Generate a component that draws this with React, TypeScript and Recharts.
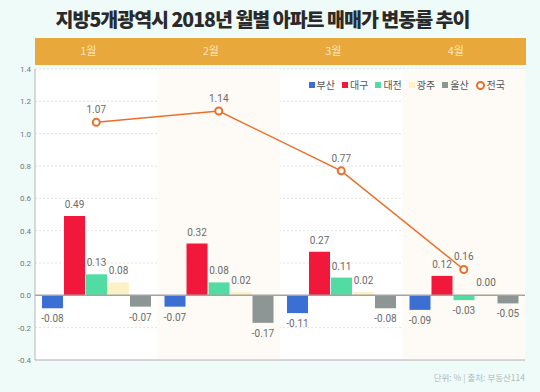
import React from 'react';
import {
  ComposedChart, Bar, Line, XAxis, YAxis, CartesianGrid, ReferenceLine,
  ReferenceArea, LabelList,
} from 'recharts';

const months = ['1월', '2월', '3월', '4월'];
const busan = [-0.08, -0.07, -0.11, -0.09];
const daegu = [0.49, 0.32, 0.27, 0.12];
const daejeon = [0.13, 0.08, 0.11, -0.03];
const gwangju = [0.08, 0.02, 0.02, 0.0];
const ulsan = [-0.07, -0.17, -0.08, -0.05];
const national = [1.07, 1.14, 0.77, 0.16];
const yTicks = [-0.4, -0.2, 0, 0.2, 0.4, 0.6, 0.8, 1.0, 1.2, 1.4];

const series = [
  { key: 'busan', name: '부산', color: '#3b6fd4' },
  { key: 'daegu', name: '대구', color: '#f2183c' },
  { key: 'daejeon', name: '대전', color: '#52dca3' },
  { key: 'gwangju', name: '광주', color: '#fdf1c6' },
  { key: 'ulsan', name: '울산', color: '#8d9595' },
];
const lineColor = '#ea6f2a';

const data = months.map((m, i) => ({
  month: m,
  busan: busan[i],
  daegu: daegu[i],
  daejeon: daejeon[i],
  gwangju: gwangju[i],
  ulsan: ulsan[i],
  national: national[i],
}));

const FONT = 'Roboto, "Noto Sans", sans-serif';
const KFONT = '"Noto Sans CJK KR", "Noto Sans", sans-serif';

const BarLabel = (props: any) => {
  const { x, y, width, height, value } = props;
  const top = Math.min(y, y + height);
  const bottom = Math.max(y, y + height);
  const ty = value >= 0 ? top - 8 : bottom + 14;
  return (
    <text x={x + width / 2} y={ty} textAnchor="middle" fill="#6b6b6b" fontSize={10} fontFamily={FONT}>
      {Number(value).toFixed(2)}
    </text>
  );
};

const LineLabel = (props: any) => {
  const { x, y, value } = props;
  return (
    <text x={x} y={y - 9} textAnchor="middle" fill="#6b6b6b" fontSize={10} fontFamily={FONT}>
      {Number(value).toFixed(2)}
    </text>
  );
};

const MonthTick = (props: any) => {
  const { x, payload } = props;
  return (
    <text x={x - 8} y={55} textAnchor="middle" fill="#fbe6bd" fontSize={11} fontFamily={KFONT}>
      {payload.value}
    </text>
  );
};

const LegendBox = () => (
  <div style={{ position: 'absolute', right: 35, top: 79, display: 'flex', gap: 7, fontFamily: KFONT, fontSize: 10, lineHeight: '12px', color: '#555', alignItems: 'center' }}>
    {series.map((s) => (
      <span key={s.key} style={{ display: 'flex', alignItems: 'center', gap: 2 }}>
        <span style={{ width: 6, height: 6, background: s.color, display: 'inline-block' }} />
        {s.name}
      </span>
    ))}
    <span style={{ display: 'flex', alignItems: 'center', gap: 2 }}>
      <span style={{ width: 5, height: 5, border: `2px solid ${lineColor}`, borderRadius: '50%', display: 'inline-block' }} />
      전국
    </span>
  </div>
);

export default function App() {
  return (
    <div style={{ position: 'fixed', left: 0, top: 0, width: 540, height: 392, background: '#eefbf9', overflow: 'hidden' }}>
      <div style={{ position: 'absolute', left: 0, top: 4, width: 525, textAlign: 'center', fontFamily: KFONT, fontWeight: 900, fontSize: 19.5, color: '#2a2a2a', letterSpacing: -1 }}>
        지방5개광역시 2018년 월별 아파트 매매가 변동률 추이
      </div>
      <div style={{ position: 'absolute', left: 35, top: 38, width: 491, height: 27, background: '#e8a83b' }} />
      <div style={{ position: 'absolute', left: 0, top: 0 }}>
        <ComposedChart
          width={540}
          height={392}
          data={data}
          margin={{ top: 38, right: 15, bottom: 32, left: 5 }}
          barCategoryGap={7}
          barGap={1}
        >
          <CartesianGrid vertical={false} stroke="#e2e2e2" strokeDasharray="2 2" fill="#ffffff" />
          <ReferenceArea x1="2월" x2="2월" fill="#fefaf5" fillOpacity={1} stroke="none" />
          <ReferenceArea x1="4월" x2="4월" fill="#fefaf5" fillOpacity={1} stroke="none" />
          <XAxis dataKey="month" orientation="top" height={31} axisLine={false} tickLine={false} tick={<MonthTick />} interval={0} />
          <YAxis
            domain={[-0.4, 1.4]}
            ticks={yTicks}
            tickFormatter={(v: number) => v.toFixed(1)}
            tick={{ fontSize: 8, fill: '#777', fontFamily: FONT }}
            tickLine={false}
            tickSize={0}
            tickMargin={4}
            axisLine={{ stroke: '#b5b5b5' }}
            width={30}
            interval={0}
          />
          <YAxis yAxisId="r" orientation="right" width={0} tick={false} tickLine={false} axisLine={{ stroke: '#cfcfcf' }} domain={[-0.4, 1.4]} />
          <ReferenceLine y={-0.4} stroke="#b5b5b5" />
          <ReferenceLine y={0} stroke="#a3a3a3" strokeWidth={1.5} />
          {series.map((s) => (
            <Bar
              key={s.key}
              dataKey={s.key}
              name={s.name}
              fill={s.color}
              minPointSize={s.key === 'gwangju' ? 1 : 0}
              isAnimationActive={false}
            >
              <LabelList dataKey={s.key} content={<BarLabel />} />
            </Bar>
          ))}
          <Line
            dataKey="national"
            name="전국"
            stroke={lineColor}
            strokeWidth={1.5}
            dot={{ r: 3.5, stroke: lineColor, strokeWidth: 2, fill: '#fff' }}
            isAnimationActive={false}
          >
            <LabelList dataKey="national" content={<LineLabel />} />
          </Line>
        </ComposedChart>
      </div>
      <LegendBox />
      <div style={{ position: 'absolute', right: 15, top: 371, fontFamily: KFONT, fontSize: 8.5, color: '#b2baba' }}>
        단위: % | 출처: 부동산114
      </div>
    </div>
  );
}
